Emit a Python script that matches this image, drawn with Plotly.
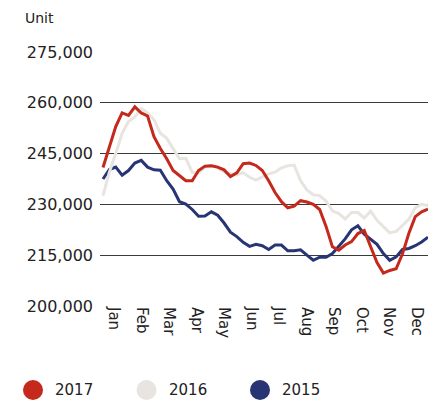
import plotly.graph_objects as go

# weekly values, thousands of units (52 weeks)
weeks = list(range(52))

y2017 = [240.9, 247, 253, 257, 256.3, 258.8, 257, 256.1, 250, 246.5, 243.5, 240, 238.5,
         237, 237, 240, 241.3, 241.4, 241, 240.2, 238.2, 239.3, 242, 242.2, 241.5, 240,
         237, 233.5, 230.8, 229, 229.5, 231.1, 230.7, 230, 228.5, 223.5, 217.5, 216.5, 218,
         219, 221.4, 222.3, 217.5, 212.8, 209.7, 210.5, 211, 215.4, 221.5, 226.4, 227.8, 228.6]

y2016 = [232.6, 239.5, 245, 251, 254.5, 255.8, 258.3, 257, 255, 251, 249.5, 246.5, 243.5,
         243.6, 239.5, 239.3, 241, 241.5, 240.8, 239.6, 239.2, 238.7, 239.4, 238, 237.2, 238,
         239, 239.5, 240.8, 241.4, 241.6, 237, 234.3, 232.8, 232.6, 231, 228.1, 227.3, 225.7,
         227.6, 227.6, 226, 228, 225.3, 223.4, 221.6, 222, 223.7, 225.6, 229, 230, 229.6]

y2015 = [237.5, 240.3, 241, 238.6, 240, 242.2, 243, 241, 240.2, 240.1, 237, 234.5, 230.8,
         230.1, 228.5, 226.5, 226.6, 227.8, 226.8, 224.5, 221.8, 220.5, 218.8, 217.6, 218.2, 217.8,
         216.7, 218, 218, 216.3, 216.3, 216.6, 215, 213.5, 214.4, 214.4, 215.5, 217.5, 219.8,
         222.5, 223.7, 221.2, 219.6, 218.2, 215.5, 213.5, 214.5, 216.7, 217, 217.8, 218.9, 220.3]

months = ["Jan", "Feb", "Mar", "Apr", "May", "Jun", "Jul", "Aug", "Sep", "Oct", "Nov", "Dec"]
yticks = [200000, 215000, 230000, 245000, 260000, 275000]

series = [("2017", y2017, "#c4291c"), ("2016", y2016, "#e8e4df"), ("2015", y2015, "#283574")]

FONT = "DejaVu Sans"

fig = go.Figure()
# draw 2015 first so 2017 ends up on top
for name, vals, col in reversed(series):
    fig.add_trace(go.Scatter(x=weeks, y=[v * 1000 for v in vals], mode="lines", name=name,
                             line=dict(color=col, width=3), showlegend=False,
                             cliponaxis=False))

# month labels sit roughly every 4.32 weeks starting a bit into January
month_pos = [1.73 + 4.32 * i for i in range(12)]

fig.update_layout(
    width=428, height=401,
    margin=dict(l=100, r=0, t=52, b=95),
    paper_bgcolor="white", plot_bgcolor="white",
    font=dict(family=FONT, color="#222"),
    xaxis=dict(range=[-0.47, 51], tickvals=month_pos, ticktext=months, tickangle=90,
               showgrid=False, zeroline=False, showline=False, ticks="",
               tickfont=dict(size=15, color="#222")),
    yaxis=dict(range=[200000, 275000], tickvals=yticks, tickformat=",d",
               showgrid=True, gridcolor="#3a3a3a", gridwidth=1, zeroline=False,
               showline=False, ticks="", ticklabelstandoff=6,
               tickfont=dict(size=16, color="#222")),
)

fig.add_annotation(text="Unit", xref="paper", yref="paper", x=-0.236, y=1.0,
                   xanchor="left", yanchor="bottom", yshift=24, showarrow=False,
                   font=dict(size=14, color="#222"))

# manual legend with big dots
for i, (name, vals, col) in enumerate(series):
    cx = 33 + 113.5 * i
    cy = 390
    fig.add_shape(type="circle", xref="paper", yref="paper",
                  x0=(cx - 10 - 100) / 328, x1=(cx + 10 - 100) / 328,
                  y0=(401 - 95 - cy - 10) / 254, y1=(401 - 95 - cy + 10) / 254,
                  fillcolor=col, line_width=0)
    fig.add_annotation(text=name, xref="paper", yref="paper",
                       x=(cx + 20 - 100) / 328, y=(401 - 95 - cy) / 254,
                       xanchor="left", yanchor="middle", showarrow=False,
                       font=dict(size=15, color="#222"))

fig.write_html("out.html", config={"displayModeBar": False},
               post_script="document.body.style.margin='0';")
